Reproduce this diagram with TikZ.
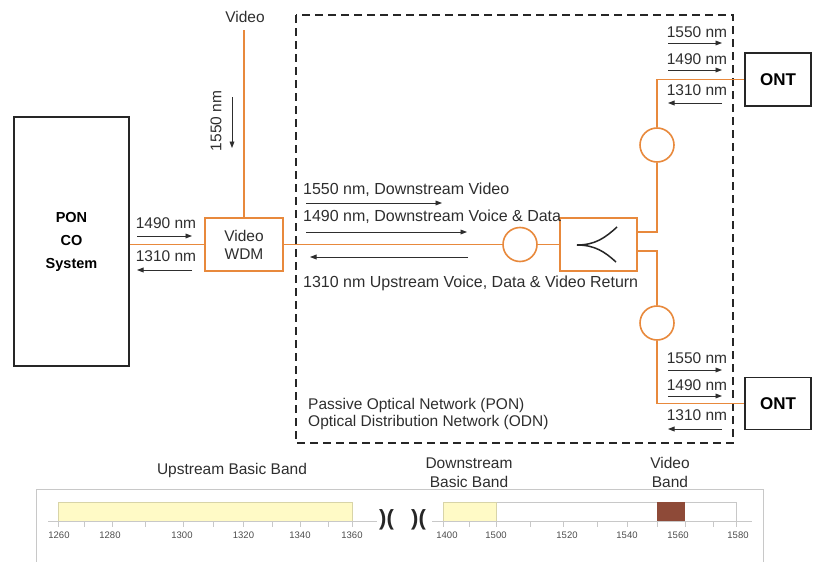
\documentclass[tikz,border=0pt]{standalone}
\usepackage{fontspec}
\setmainfont{Liberation Sans}
\usetikzlibrary{arrows.meta}

\definecolor{fibre}{HTML}{E8893C}
\definecolor{bandyellow}{HTML}{FFFAC6}
\definecolor{bandedge}{HTML}{D8D4A8}
\definecolor{bandbrown}{HTML}{8E4A38}
\definecolor{chartgrey}{HTML}{C8C8C8}
\definecolor{ink}{HTML}{2E2E2E}

\begin{document}
\begin{tikzpicture}[x=1pt,y=-1pt,
  fibreline/.style={draw=fibre, line width=1.5pt},
  blackbox/.style={draw=black!85, line width=1.7pt, fill=white, inner sep=0pt},
  optbox/.style={draw=fibre, line width=2pt, fill=white, inner sep=0pt},
  coupler/.style={circle, draw=fibre, line width=1.6pt, fill=white, minimum size=34pt, inner sep=0pt},
  sig/.style={draw=ink, line width=0.9pt, -{Triangle[length=6.5pt,width=4.8pt]}},
  lbl/.style={font=\fontsize{15.5}{17}\selectfont, text=ink, inner sep=0pt},
  widelbl/.style={font=\fontsize{16}{17}\selectfont, text=ink, inner sep=0pt},
  boldlbl/.style={font=\fontsize{14.5}{23}\selectfont\bfseries, text=black, align=center},
  chartlbl/.style={font=\fontsize{15.5}{19}\selectfont, text=ink, inner sep=0pt, align=center},
  ticklbl/.style={font=\fontsize{9.5}{10}\selectfont, text=black!70, inner sep=0pt},
  tickmark/.style={draw=chartgrey, line width=0.7pt},
  breakmark/.style={font=\fontsize{22}{22}\selectfont\bfseries, text=black!85, inner sep=0pt},
  odn/.style={draw=black!85, line width=2pt, dash pattern=on 8pt off 5pt}
]
\useasboundingbox (0,0) rectangle (815,562);

% ---------- network elements ----------
\node[blackbox, boldlbl, minimum width=115pt, minimum height=249pt] (co) at (71.5,241.5) {PON\\CO\\System};
\node[optbox, minimum width=78pt, minimum height=53pt, font=\fontsize{15.5}{18}\selectfont, text=ink, align=center] (wdm) at (244,244.5) {Video\\WDM};
\coordinate (vtop) at (244,30);
\node[lbl] (vlabel) at (245,17) {Video};

% optical distribution network boundary
\draw[odn] (296,15) rectangle (733,443);

\node[coupler] (c1) at (520,244.5) {};
\node[optbox, minimum width=77pt, minimum height=53pt] (split) at (598.5,244) {};
\node[coupler] (c2) at (657,145) {};
\node[coupler] (c3) at (657,323) {};

% splitter symbol
\draw[black!85, line width=1.5pt] (577,245) .. controls (595,245) and (605,238) .. (617,227);
\draw[black!85, line width=1.5pt] (577,245) .. controls (595,245) and (605,252) .. (616,262);

% fibres
\draw[fibreline] (co.east |- wdm.west) -- (wdm.west);
\draw[fibreline] (wdm.north) -- (vtop);
\draw[fibreline] (wdm.east) -- (c1.west);
\draw[fibreline] (c1.east) -- (c1.east -| split.west);
\draw[fibreline] ([yshift=12pt]split.east) -| (c2.south);
\draw[fibreline] ([yshift=-7pt]split.east) -| (c3.north);

\node[blackbox, minimum width=66pt, minimum height=53pt, font=\fontsize{17}{17}\selectfont\bfseries] (ont1) at (778,79.5) {ONT};
\node[blackbox, minimum width=66pt, minimum height=52pt, font=\fontsize{17}{17}\selectfont\bfseries] (ont2) at (778,403.5) {ONT};
\draw[fibreline] (c2.north) |- (ont1.west);
\draw[fibreline] (c3.south) |- (ont2.west);

% ---------- wavelength annotations ----------
% video feed
\node[lbl, rotate=90] (v1550) at (216,121) {1550 nm};
\draw[sig] (232,97) -- (232,148);

% CO side
\node[lbl] (co1490) at (166,223) {1490 nm};
\draw[sig] (137,236) -- (192,236);
\node[lbl] (co1310) at (166,256) {1310 nm};
\draw[sig] (192,270) -- (137,270);

% feeder
\node[widelbl, anchor=west] (f1550) at (303,190) {1550 nm, Downstream Video};
\draw[sig] (306,203) -- (442,203);
\node[widelbl, anchor=west] (f1490) at (303,217) {1490 nm, Downstream Voice \& Data};
\draw[sig] (306,232) -- (467,232);
\draw[sig] (468,257) -- (310,257);
\node[widelbl, anchor=west] (f1310) at (303,283) {1310 nm Upstream Voice, Data \& Video Return};

% upper drop
\node[lbl] (u1550) at (697,32) {1550 nm};
\draw[sig] (668,43) -- (722,43);
\node[lbl] (u1490) at (697,59) {1490 nm};
\draw[sig] (668,70) -- (722,70);
\node[lbl] (u1310) at (697,90) {1310 nm};
\draw[sig] (722,103) -- (668,103);

% lower drop
\node[lbl] (l1550) at (697,358) {1550 nm};
\draw[sig] (668,370) -- (722,370);
\node[lbl] (l1490) at (697,385) {1490 nm};
\draw[sig] (668,396) -- (722,396);
\node[lbl] (l1310) at (697,415) {1310 nm};
\draw[sig] (722,429) -- (668,429);

\node[lbl, anchor=west, align=left] (odnlbl) at (308,413.5) {Passive Optical Network (PON)\\Optical Distribution Network (ODN)};

% ---------- wavelength band chart ----------
\draw[chartgrey, line width=0.8pt] (36,566) -- (36,489) -- (763,489) -- (763,566);

\node[chartlbl] (upband) at (232,470) {Upstream Basic Band};
\node[chartlbl] (downband) at (469,472.5) {Downstream\\Basic Band};
\node[chartlbl] (vidband) at (670,472.5) {Video\\Band};

\draw[fill=bandyellow, draw=bandedge, line width=0.7pt] (58.5,502) rectangle (352,521);
\draw[fill=white, draw=chartgrey, line width=0.7pt] (443,502) rectangle (736,521);
\draw[fill=bandyellow, draw=bandedge, line width=0.7pt] (443,502) rectangle (496,521);
\fill[bandbrown] (657,502) rectangle (685,521);

\draw[chartgrey, line width=0.9pt] (48,521) -- (377,521);
\draw[chartgrey, line width=0.9pt] (432,521) -- (752,521);

\foreach \t in {58.5,84,112,145,183,213,243,272,300,328,352,443,469,496,530,563,597,627,657,685,713,736}
  \draw[tickmark] (\t,521) -- (\t,527);

\foreach \p/\v in {59/1260,110/1280,182/1300,243.5/1320,300/1340,352/1360,447/1400,496/1500,567/1520,627/1540,678/1560,738/1580}
  \node[ticklbl] (tick\v) at (\p,535) {\v};

\node[breakmark] (brk1) at (386.5,520) {)(};
\node[breakmark] (brk2) at (418.5,520) {)(};
\end{tikzpicture}
\end{document}
